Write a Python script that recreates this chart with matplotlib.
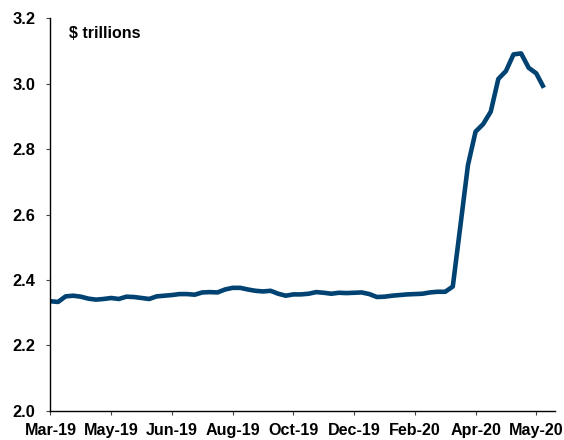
import matplotlib
matplotlib.use("Agg")
import matplotlib.pyplot as plt
import numpy as np

# Weekly values ($ trillions), Mar-2019 .. Jun-2020
values = [
    2.335, 2.333, 2.350, 2.352, 2.349, 2.343, 2.340, 2.342, 2.345, 2.342,
    2.349, 2.348, 2.345, 2.342, 2.350, 2.352, 2.354, 2.357, 2.357, 2.355,
    2.362, 2.363, 2.362, 2.371, 2.376, 2.376, 2.371, 2.367, 2.365, 2.367,
    2.358, 2.352, 2.356, 2.356, 2.358, 2.363, 2.361, 2.358, 2.361, 2.360,
    2.361, 2.362, 2.357, 2.348, 2.349, 2.352, 2.354, 2.356, 2.357, 2.358,
    2.362, 2.364, 2.364, 2.380, 2.565, 2.751, 2.853, 2.876, 2.914, 3.014,
    3.038, 3.089, 3.092, 3.048, 3.031, 2.987,
]
tick_labels = ["Mar-19", "May-19", "Jun-19", "Aug-19", "Oct-19",
               "Dec-19", "Feb-20", "Apr-20", "May-20"]
tick_step = 8
y_ticks = [2.0, 2.2, 2.4, 2.6, 2.8, 3.0, 3.2]

plt.rcParams['font.family'] = ['Liberation Sans', 'DejaVu Sans']

fig = plt.figure(figsize=(5.64, 4.40), dpi=100)
ax = fig.add_axes([0.0895, 0.066, 0.895, 0.893])

x = np.arange(len(values))
ax.plot(x, values, color="#004272", linewidth=3.3, solid_joinstyle="round",
        solid_capstyle="butt")

ax.set_xlim(0, 66.5)
ax.set_ylim(2.0, 3.2)
ax.set_yticks(y_ticks)
ax.set_yticklabels([f"{v:.1f}" for v in y_ticks])
ax.set_xticks(np.arange(0, len(tick_labels) * tick_step, tick_step))
ax.set_xticklabels(tick_labels)

for s in ["top", "right"]:
    ax.spines[s].set_visible(False)
for s in ["left", "bottom"]:
    ax.spines[s].set_color("black")
    ax.spines[s].set_linewidth(1.0)

ax.tick_params(axis="y", direction="out", length=3, width=0.8, color="#444444",
               pad=8, labelsize=11.8)
ax.tick_params(axis="x", direction="out", length=3, width=0.8, color="#444444",
               pad=6, labelsize=11.6)
for lab in ax.get_xticklabels() + ax.get_yticklabels():
    lab.set_fontweight("bold")

fig.text(69 / 564, 1 - 34 / 440, "$ trillions", fontsize=11.5,
         fontweight="bold", ha="left", va="center")

fig.savefig("out.png", dpi=100)
